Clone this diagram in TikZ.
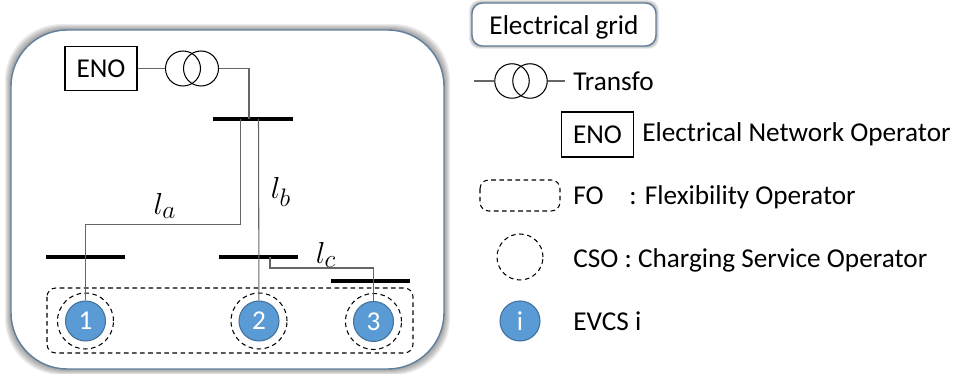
\documentclass[tikz,border=0pt]{standalone}
\usepackage{fontspec}
\setmainfont{Carlito}
\definecolor{framecol}{HTML}{5F7F9C}
\definecolor{evcsfill}{HTML}{5B9BD5}
\definecolor{evcsline}{HTML}{41719C}
\tikzset{
	txt/.style={anchor=base west, inner sep=0pt, font=\fontsize{15.5pt}{17pt}\selectfont},
	enobox/.style={draw, line width=.6pt, minimum width=1.44cm, minimum height=.87cm, inner sep=0pt, font=\fontsize{15.5pt}{17pt}\selectfont},
	transfo/.style={draw, circle, line width=.6pt, minimum size=.7cm, inner sep=0pt},
	bus/.style={fill=black, minimum width=1.6cm, minimum height=.08cm, inner sep=0pt},
	evcs/.style={draw=evcsline, fill=evcsfill, circle, line width=.6pt, minimum size=.8cm, inner sep=0pt, text=white, font=\fontsize{15.5pt}{17pt}\selectfont},
	cso/.style={draw, circle, line width=.6pt, dash pattern=on 2.6pt off 2pt, minimum size=1.12cm, inner sep=0pt},
	fo/.style={line width=.6pt, dash pattern=on 2.6pt off 2pt, rounded corners=5pt},
	wire/.style={draw=black!60, line width=.6pt},
	gridbox/.style={draw=framecol, fill=white, line width=.8pt},
	lname/.style={inner sep=0pt, font=\fontsize{19pt}{21pt}\selectfont}
}
\begin{document}
\begin{tikzpicture}[x=.02cm, y=-.02cm]
	\useasboundingbox (0, 0) rectangle (956, 374);

	\foreach \s in {6, 5, 4, 3, 2, 1} {
		\fill [black, opacity=.07, rounded corners=32pt] (11-\s, 30-\s) rectangle (444+\s, 369+\s);
		\fill [black, opacity=.06, rounded corners=6pt] (472-\s/2, 3-\s/2) rectangle (656+\s/2, 46+\s/2);
	}
	\draw [gridbox, rounded corners=32pt] (11, 30) rectangle (444, 369);
	\draw [gridbox, rounded corners=6pt] (472, 3) rectangle (656, 46);

	\draw node[enobox] at (101, 68.5) (eno) {\raisebox{-.5pt}{ENO}};
	\draw node[transfo] at (183, 68.5) (trleft) {};
	\draw node[transfo] at (201, 68.5) (trright) {};
	\draw node[bus] at (253, 119) (bus0) {};
	\draw node[bus] at (85.5, 257.5) (bus1) {};
	\draw node[bus] at (258.5, 257) (bus2) {};
	\draw node[bus] at (370.5, 281) (bus3) {};
	\draw node[cso] at (85.5, 321) (cso1) {};
	\draw node[cso] at (259, 321) (cso2) {};
	\draw node[cso] at (373.5, 321.5) (cso3) {};
	\draw node[evcs] at (85.5, 321) (evcs1) {1};
	\draw node[evcs] at (259, 321) (evcs2) {2};
	\draw node[evcs] at (373.5, 321.5) (evcs3) {3};
	\draw [fo] (47, 288) rectangle (413, 353);

	\coordinate (topin) at (249, 119);
	\coordinate (aout) at (240.5, 119);
	\coordinate (bout) at (258.5, 119);
	\coordinate (cout) at (270, 257);
	\coordinate (aturn) at (240.5, 224.5);
	\coordinate (cturn) at (270, 268);
	\coordinate (cend) at (373.5, 268);

	\draw [wire] (eno) -- (trleft);
	\draw [wire] (trright) -| (topin);
	\draw [wire] (aout) -- (aturn) -| (evcs1);
	\draw [wire] (bout) -- (evcs2);
	\draw [wire] (cout) -- (cturn) -- (cend) -- (evcs3);

	\draw node[lname] at (165, 206) (la) {$l_a$};
	\draw node[lname] at (281, 192) (lb) {$l_b$};
	\draw node[lname] at (326, 255) (lc) {$l_c$};

	\draw node[txt, anchor=base] at (564, 34.5) (gridname) {Electrical grid};

	\coordinate (legin) at (474, 81);
	\coordinate (legout) at (565, 81);
	\draw node[transfo, minimum size=.69cm] at (512, 81) (legleft) {};
	\draw node[transfo, minimum size=.69cm] at (530, 81) (legright) {};
	\draw [wire] (legin) -- (legleft);
	\draw [wire] (legright) -- (legout);
	\draw node[txt] at (573, 90.5) (transfoname) {Transfo};

	\draw node[enobox, minimum height=.9cm] at (597.5, 134.5) (legeno) {\raisebox{-1pt}{ENO}};
	\draw node[txt] at (642, 142) (enoname) {Electrical Network Operator};

	\draw [fo] (480, 180) rectangle (560, 211);
	\draw node[txt] at (573, 204.5) (foname) {FO};
	\draw node[txt] at (629, 204.5) (fotext) {: Flexibility Operator};

	\draw node[cso, minimum size=.92cm] at (520, 257) (legcso) {};
	\draw node[txt] at (573, 268) (csoname) {CSO : Charging Service Operator};

	\draw node[evcs] at (520, 321) (legevcs) {i};
	\draw node[txt] at (573, 330.5) (evcsname) {EVCS i};
\end{tikzpicture}
\end{document}
